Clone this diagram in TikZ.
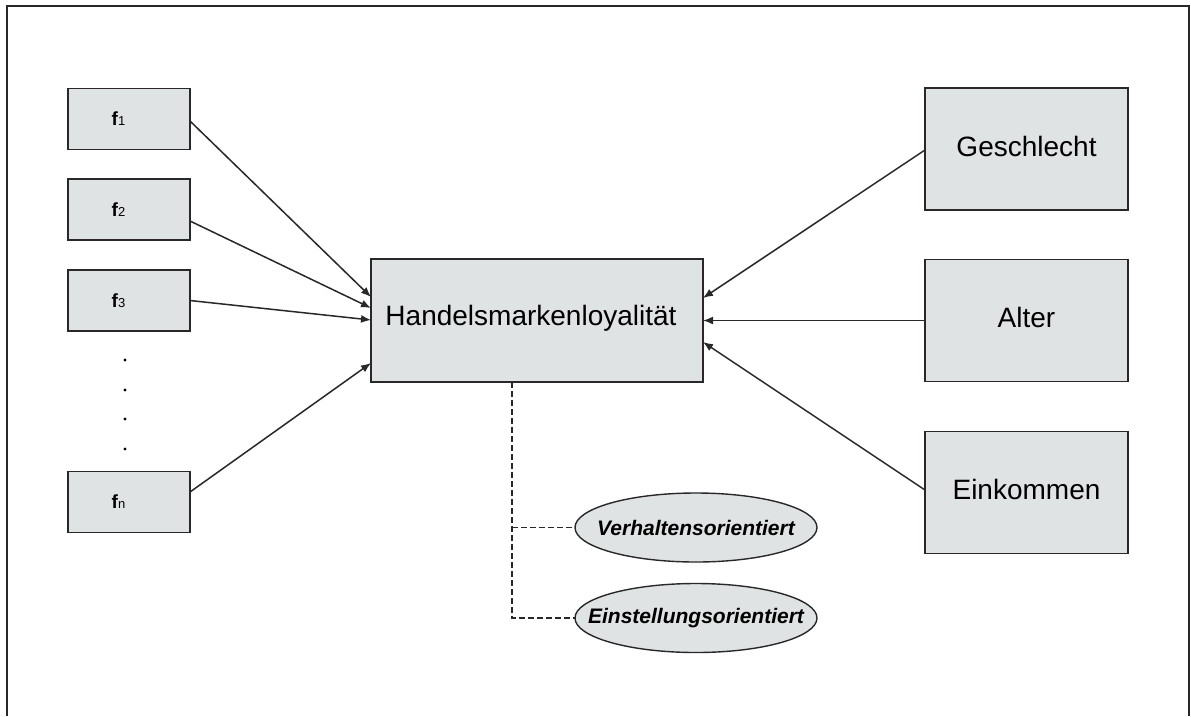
\documentclass[tikz,border=0pt]{standalone}
\usepackage{fontspec}
\setmainfont{Liberation Sans}
\usetikzlibrary{arrows.meta,shapes.geometric,calc}
\definecolor{boxfill}{RGB}{224,227,228}
\definecolor{linegray}{RGB}{40,40,40}
\begin{document}
\begin{tikzpicture}[x=1pt,y=-1pt,
  box/.style={draw=linegray, line width=1.6pt, fill=boxfill, rectangle,
    inner sep=0pt, outer sep=0pt},
  fbox/.style={box, minimum width=122pt, minimum height=61pt},
  sidebox/.style={box, minimum width=203pt, minimum height=122pt,
    font=\fontsize{28}{28}\selectfont, text height=20pt, text depth=6pt},
  oval/.style={draw=linegray, line width=1.4pt, fill=boxfill, ellipse,
    inner sep=0pt, outer sep=0pt, minimum width=242pt, minimum height=69pt,
    font=\fontsize{21}{21}\selectfont\bfseries\itshape},
  arr/.style={draw=linegray, line width=1.5pt, -{Latex[length=10pt,width=8pt]}},
  dashline/.style={draw=linegray, line width=1.2pt, dash pattern=on 6pt off 3pt},
  frame/.style={draw=linegray, line width=1.8pt},
  flabel/.style={font=\fontsize{19}{19}\selectfont, xshift=-10.5pt}
]
\useasboundingbox (0,0) rectangle (1191,716);
\fill[white] (0,0) rectangle (1191,716);

% outer frame (open at the bottom)
\draw[frame] (7,716) -- (7,6) -- (1189,6) -- (1189,716);

% factor boxes
\newcommand{\fsym}[1]{\textbf{f}{\fontsize{13}{13}\selectfont #1}}
\node[fbox, label={[flabel]center:\fsym{1}}] (f1) at (129,119) {};
\node[fbox, label={[flabel]center:\fsym{2}}] (f2) at (129,209.5) {};
\node[fbox, label={[flabel]center:\fsym{3}}] (f3) at (129,300.5) {};
\node[fbox, label={[flabel]center:\fsym{n}}] (fn) at (129,502) {};

% vertical ellipsis between f3 and fn
\foreach \yy in {360,390,419,449}
  \fill[black] (125,\yy) circle (1.7pt);

% central construct
\node[box, minimum width=332pt, minimum height=123pt,
  label={[font=\fontsize{28}{28}\selectfont, xshift=-6pt, yshift=2pt]center:Handelsmarkenloyalität}]
  (H) at (537,320.5) {};

% socio-demographic boxes
\node[sidebox] (g) at (1026.5,149) {Geschlecht};
\node[sidebox] (a) at (1026.5,320.5) {Alter};
\node[sidebox] (k) at (1026.5,492.5) {Einkommen};

% loyalty dimensions (text box kept at zero width so the ellipse size is fixed)
\node[oval] (v) at (696,527.5) {\makebox[0pt]{Verhaltensorientiert}};
\node[oval] (e) at (696,618) {\makebox[0pt]{Einstellungsorientiert}};

% arrows from the factors
\draw[arr] ([yshift=-2pt]f1.east) -- ([yshift=23.5pt]H.west);
\draw[arr] ([yshift=-11.5pt]f2.east) -- ([yshift=12.5pt]H.west);
\draw[arr] (f3.east) -- ([yshift=0.5pt]H.west);
\draw[arr] ([yshift=10pt]fn.east) -- ([yshift=-42.5pt]H.west);

% arrows from the socio-demographic variables
\draw[arr] ([yshift=-1pt]g.west) -- ([yshift=22.5pt]H.east);
\draw[arr] (a.west) -- (H.east);
\draw[arr] ([yshift=2.5pt]k.west) -- ([yshift=-21.5pt]H.east);

% dashed links to the dimensions: one trunk, two branches
\coordinate (dtop) at ([xshift=-25pt]H.south);
\draw[dashline] (dtop) |- (e.west);
\draw[dashline] (dtop |- v.west) -- (v.west);
\end{tikzpicture}
\end{document}
